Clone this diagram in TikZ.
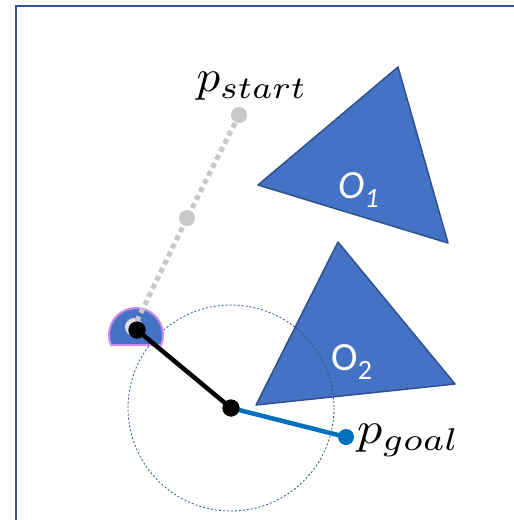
\documentclass[tikz,border=0pt]{standalone}
\usepackage{fontspec}
\usepackage{graphicx}
\newfontfamily\calib{Carlito}
\definecolor{frameblue}{HTML}{2F5597}
\definecolor{obsblue}{HTML}{4472C4}
\definecolor{obsedge}{HTML}{2F528F}
\definecolor{goalblue}{HTML}{0070C0}
\definecolor{pathgrey}{HTML}{C8C8C8}
\definecolor{robotedge}{HTML}{CC88EE}
\begin{document}
\begin{tikzpicture}[x=1pt,y=-1pt,
  obstacle/.style={fill=obsblue,draw=obsedge,line width=1.5pt,line join=round},
  dotnode/.style={circle,inner sep=0pt,minimum size=16pt},
  olabel/.style={text=white,font=\calib\fontsize{40}{44}\selectfont,inner sep=0pt},
  plabel/.style={inner sep=0pt}]
\useasboundingbox (0,0) rectangle (514,520);
\fill[white] (0,0) rectangle (514,520);
% frame
\draw[frameblue,line width=2pt] (16,530) -- (16,6) -- (530,6);
% obstacles
\draw[obstacle] (398,67) -- (258,185) -- (448,243) -- cycle;
\draw[obstacle] (338,242) -- (256,405) -- (455,384) -- cycle;
\node[olabel] (o1) at (359,190) {\itshape O\textsubscript{1}};
\node[olabel] (o2) at (352,362) {O\textsubscript{2}};
% reach circle
\coordinate (c) at (231,408);
\draw[obsedge,dash pattern=on 2pt off 2pt,line width=0.8pt] (c) circle (103);
% robot body
\draw[fill=obsblue,draw=robotedge,line width=2pt,line join=round] (110.93,345) arc [start angle=201.7,end angle=-21.7,radius=27pt] -- cycle;
% start path
\node[dotnode,fill=pathgrey] (ps) at (239,115) {};
\node[dotnode,fill=pathgrey] (pm) at (187,218) {};
\node[dotnode,fill=pathgrey!60,minimum size=18pt] (pr) at (134,327) {};
\draw[pathgrey,line width=5pt,dash pattern=on 5pt off 4pt] (ps.center) -- (pm.center) -- (pr.center);
% robot arm
\node[dotnode,fill=black,minimum size=17pt] (r) at (137,330) {};
\node[dotnode,fill=black,minimum size=17pt] (j) at (c) {};
\node[dotnode,fill=goalblue] (g) at (346,437) {};
\draw[black,line width=4.5pt] (r.center) -- (j.center);
\draw[goalblue,line width=4.5pt] (j.center) -- (g.center);
\fill[black] (j.center) circle (8.5);
\fill[black] (r.center) circle (8.5);
% labels
\node[plabel] (ls) at (252,86) {\scalebox{4.7}[4.5]{$p_{start}$}};
\node[plabel,anchor=west] (lg) at (357,440) {\scalebox{5.0}[4.5]{$p_{goal}$}};
\end{tikzpicture}
\end{document}
